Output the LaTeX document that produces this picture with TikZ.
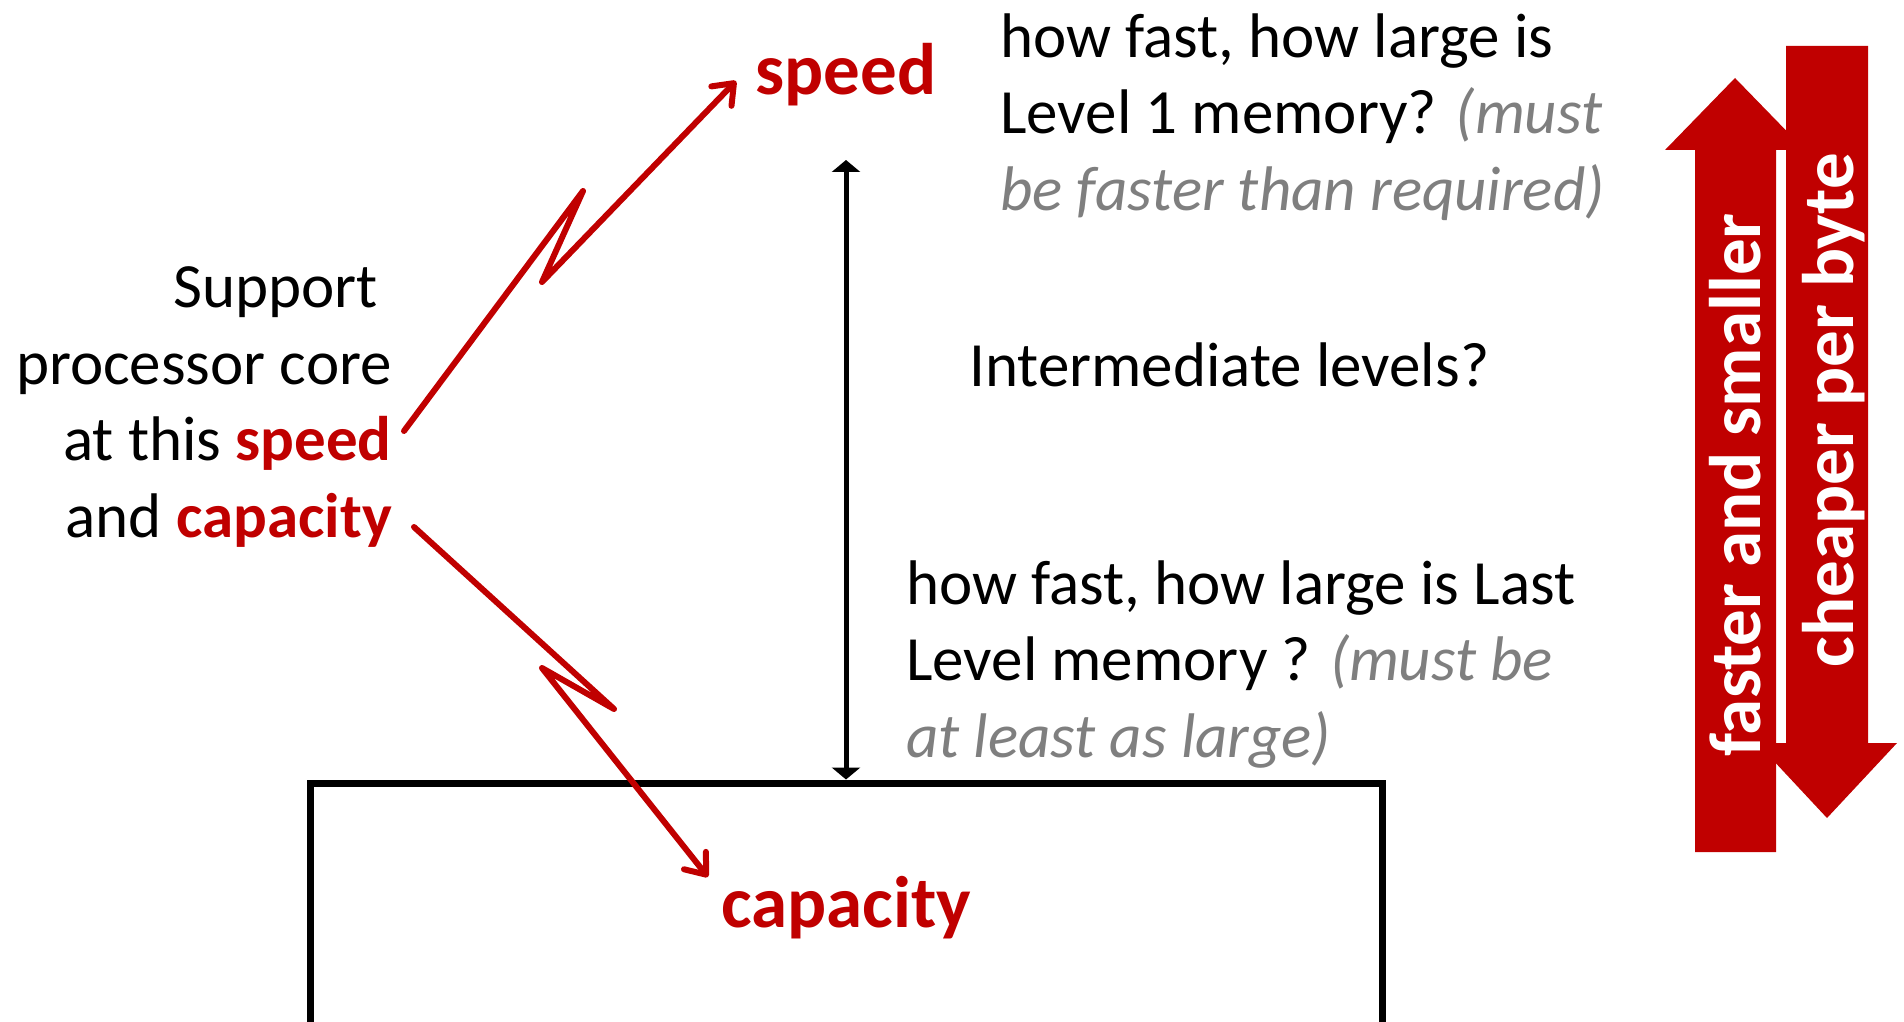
\documentclass[tikz,border=0pt]{standalone}
\usepackage{fontspec}
\setmainfont{Carlito}
\usetikzlibrary{arrows.meta}

\definecolor{memred}{RGB}{192,0,0}
\definecolor{notegray}{RGB}{127,127,127}

\begin{document}
\begin{tikzpicture}[x=1pt,y=-1pt,
    txt/.style={font=\fontsize{63}{76.5}\selectfont,inner sep=0pt},
    big/.style={font=\fontsize{73}{88}\selectfont\bfseries,text=memred,inner sep=0pt},
    zigzag/.style={memred,line width=6pt,line cap=round,line join=round,
        -{Straight Barb[length=18pt,width=28pt,round]}},
    levelarrow/.style={line width=5pt,
        {Triangle[length=12pt,width=28pt]}-{Triangle[length=12pt,width=28pt]}}]

    % Keep to the slide area
    \clip (0,0) rectangle (1904,1022);

    % Memory box, cut off at the bottom
    \node[draw,line width=7pt,minimum width=1072pt,minimum height=257pt] (mem) at (846,911.5) {};
    \node[big,anchor=base] (cap) at (846,927) {capacity};

    % Processor side (base = last line)
    \node[txt,align=right,anchor=base east] (core) at (392,537)
        {Support\hspace*{14pt}\\processor core\\at this \textcolor{memred}{\bfseries speed}\\and \textcolor{memred}{\bfseries capacity}};
    \node[big,anchor=base] (spd) at (846,95) {speed};

    % Levels in between
    \coordinate (l1) at (846,160);
    \draw[levelarrow] (l1) -- (mem.north);

    \node[txt,align=left,anchor=base west] (first) at (1000,210)
        {how fast, how large is\\Level 1 memory? \textcolor{notegray}{\itshape (must}\\\textcolor{notegray}{\itshape be faster than required)}};
    \node[txt,anchor=base west] (mid) at (969,386) {Intermediate levels?};
    \node[txt,align=left,anchor=base west] (last) at (906,757)
        {how fast, how large is Last\\Level memory ? \textcolor{notegray}{\itshape (must be}\\\textcolor{notegray}{\itshape at least as large)}};

    % Zigzag arrows
    \coordinate (s0) at (404,431);
    \coordinate (s1) at (583,191);
    \coordinate (s2) at (542,282);
    \coordinate (s3) at (736,81);
    \draw[zigzag] (s0) -- (s1) -- (s2) -- (s3);

    \coordinate (c0) at (414,527);
    \coordinate (c1) at (614,709);
    \coordinate (c2) at (542,668);
    \coordinate (c3) at (708,877);
    \draw[zigzag] (c0) -- (c1) -- (c2) -- (c3);

    % Big arrows on the right
    \fill[memred] (1695,852) -- (1695,150) -- (1665,150) -- (1735,78) -- (1805,150) -- (1776,150) -- (1776,852) -- cycle;
    \fill[memred] (1786,46) -- (1868,46) -- (1868,743) -- (1897,743) -- (1827,818) -- (1757,743) -- (1786,743) -- cycle;
    \node[big,text=white,rotate=90,anchor=base] (fast) at (1760,485) {faster and smaller};
    \node[big,text=white,rotate=90,anchor=base] (cheap) at (1853,410) {cheaper per byte};

\end{tikzpicture}
\end{document}
